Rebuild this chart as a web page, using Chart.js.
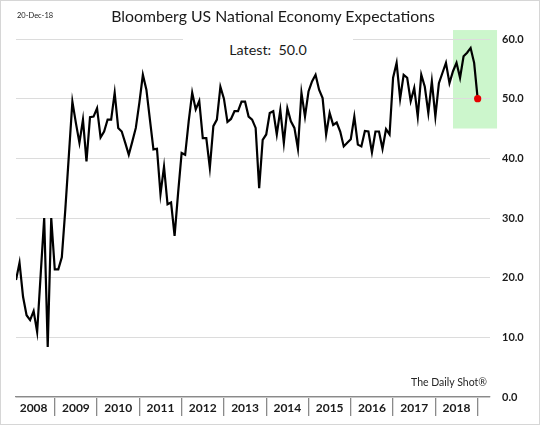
<!DOCTYPE html>
<html><head><meta charset="utf-8">
<script src="https://cdn.jsdelivr.net/npm/chart.js@4.4.0/dist/chart.umd.min.js"></script>
<style>
html,body{margin:0;padding:0;background:#fff;}
#wrap{position:relative;width:540px;height:425px;overflow:hidden;font-family:Lato,"Liberation Sans",sans-serif;background:#fff;}
#c{position:absolute;left:0;top:0;}
.t{position:absolute;white-space:pre;color:#1a1a1a;}
#frame{position:absolute;left:0;top:0;width:538px;height:423px;border:1px solid #d6d6d6;pointer-events:none;}
</style></head><body>
<div id="wrap">
<canvas id="c" width="540" height="425"></canvas>
<div class="t" style="left:17px;top:11px;font-size:7.5px;line-height:10px;">20-Dec-18</div>
<div class="t" style="left:0;width:546px;text-align:center;top:6px;font-size:15.8px;line-height:20px;">Bloomberg US National Economy Expectations</div>
<div class="t" style="left:183px;width:170px;top:37px;height:26px;line-height:26px;text-align:center;background:#fff;font-size:14.3px;">Latest:  50.0</div>
<div class="t" style="left:400px;width:87px;text-align:right;top:375px;font-size:10.5px;line-height:14px;color:#262626;">The Daily Shot®</div>
<div id="frame"></div>
</div>
<script>
const years = ['2008','2009','2010','2011','2012','2013','2014','2015','2016','2017','2018'];
const months = ['Jan','Feb','Mar','Apr','May','Jun','Jul','Aug','Sep','Oct','Nov','Dec'];
const expectations = [
  19.6, 22.5, 16.8, 13.7, 12.9, 14.4, 10.9, 20.5, 30.0, 8.4, 30.0, 21.4,
  21.4, 23.4, 31.5, 40.5, 49.5, 45.9, 42.6, 46.5, 39.5, 46.9, 47.0, 48.4,
  43.5, 44.5, 46.5, 46.5, 51.0, 45.1, 44.5, 42.6, 40.6, 42.8, 45.1, 49.3,
  54.0, 51.5, 46.5, 41.5, 41.6, 34.0, 38.6, 32.3, 32.6, 27.0, 34.2, 40.9,
  40.6, 46.2, 51.0, 48.2, 49.6, 43.4, 43.4, 38.4, 45.4, 46.5, 52.0, 50.0,
  46.1, 46.6, 47.9, 47.9, 49.5, 49.5, 47.0, 46.5, 45.1, 35.0, 43.1, 44.0,
  47.6, 47.9, 44.0, 48.1, 42.6, 48.4, 46.2, 45.1, 41.6, 51.0, 47.0, 51.2,
  52.9, 54.0, 51.5, 50.1, 44.0, 47.6, 45.6, 46.0, 44.5, 42.0, 42.6, 43.2,
  47.0, 42.3, 42.0, 44.6, 44.5, 41.0, 44.5, 44.5, 41.6, 44.9, 44.0, 53.5,
  56.0, 50.0, 54.0, 53.5, 49.6, 51.8, 47.0, 54.0, 52.0, 47.6, 52.9, 47.0,
  52.6, 54.3, 56.0, 52.6, 54.6, 56.0, 53.5, 57.1, 57.7, 58.5, 56.0, 50.0
];
const yTicks = [0, 10, 20, 30, 40, 50, 60];
// highlight window (months since Jan 2008, index values)
const hlFrom = 124, hlTo = 136.5, hlLow = 45, hlHigh = 61.5;

const labels = [];
years.forEach(y => months.forEach(m => labels.push(m + ' ' + y)));
const points = expectations.map((v, i) => ({x: i, y: v}));
const last = points.length - 1;
const yearCenters = years.map((y, k) => k * 12 + 5);

const highlight = {
  id: 'highlight',
  beforeDraw(chart) {
    const {ctx, scales: {x, y}} = chart;
    const l = x.getPixelForValue(hlFrom), r = x.getPixelForValue(hlTo);
    const t = y.getPixelForValue(hlHigh), b = y.getPixelForValue(hlLow);
    ctx.save();
    ctx.fillStyle = 'rgb(204,246,204)';
    ctx.fillRect(l, t, r - l, b - t);
    ctx.restore();
  }
};

new Chart(document.getElementById('c'), {
  type: 'line',
  data: {
    datasets: [{
      label: 'Bloomberg US National Economy Expectations',
      data: points,
      borderColor: '#000',
      borderWidth: 2.2,
      tension: 0,
      pointRadius: ctx => ctx.dataIndex === last ? 3.6 : 0,
      pointBackgroundColor: '#e60000',
      pointBorderColor: '#e60000',
      pointBorderWidth: 0
    }]
  },
  options: {
    responsive: false,
    animation: false,
    devicePixelRatio: 1,
    layout: {padding: {left: 16, top: 39, right: 0, bottom: 0}},
    plugins: {legend: {display: false}, tooltip: {enabled: false}, title: {display: false}},
    scales: {
      x: {
        type: 'linear',
        min: 0,
        max: 134.5,
        afterBuildTicks: s => { s.ticks = yearCenters.map(v => ({value: v})); },
        afterFit: s => { s.height = 28; },
        ticks: {
          callback: (v, i) => years[i],
          font: {family: 'Lato', size: 12, weight: 'bold'},
          color: '#1a1a1a',
          padding: -15,
          maxRotation: 0,
          autoSkip: false
        },
        grid: {offset: true, drawOnChartArea: false, tickLength: 19, color: '#8a8a8a', lineWidth: 1.3},
        border: {display: true, color: '#8a8a8a', width: 1.3}
      },
      y: {
        position: 'right',
        min: 0,
        max: 60,
        afterBuildTicks: s => { s.ticks = yTicks.map(v => ({value: v})); },
        afterFit: s => { s.width = 50; },
        ticks: {
          callback: v => v.toFixed(1),
          font: {family: 'Lato', size: 11, weight: 'bold'},
          color: '#1a1a1a',
          padding: 12
        },
        grid: {color: '#dcdcdc', lineWidth: 1, drawTicks: false},
        border: {display: false}
      }
    }
  },
  plugins: [highlight]
});
</script>
</body></html>
